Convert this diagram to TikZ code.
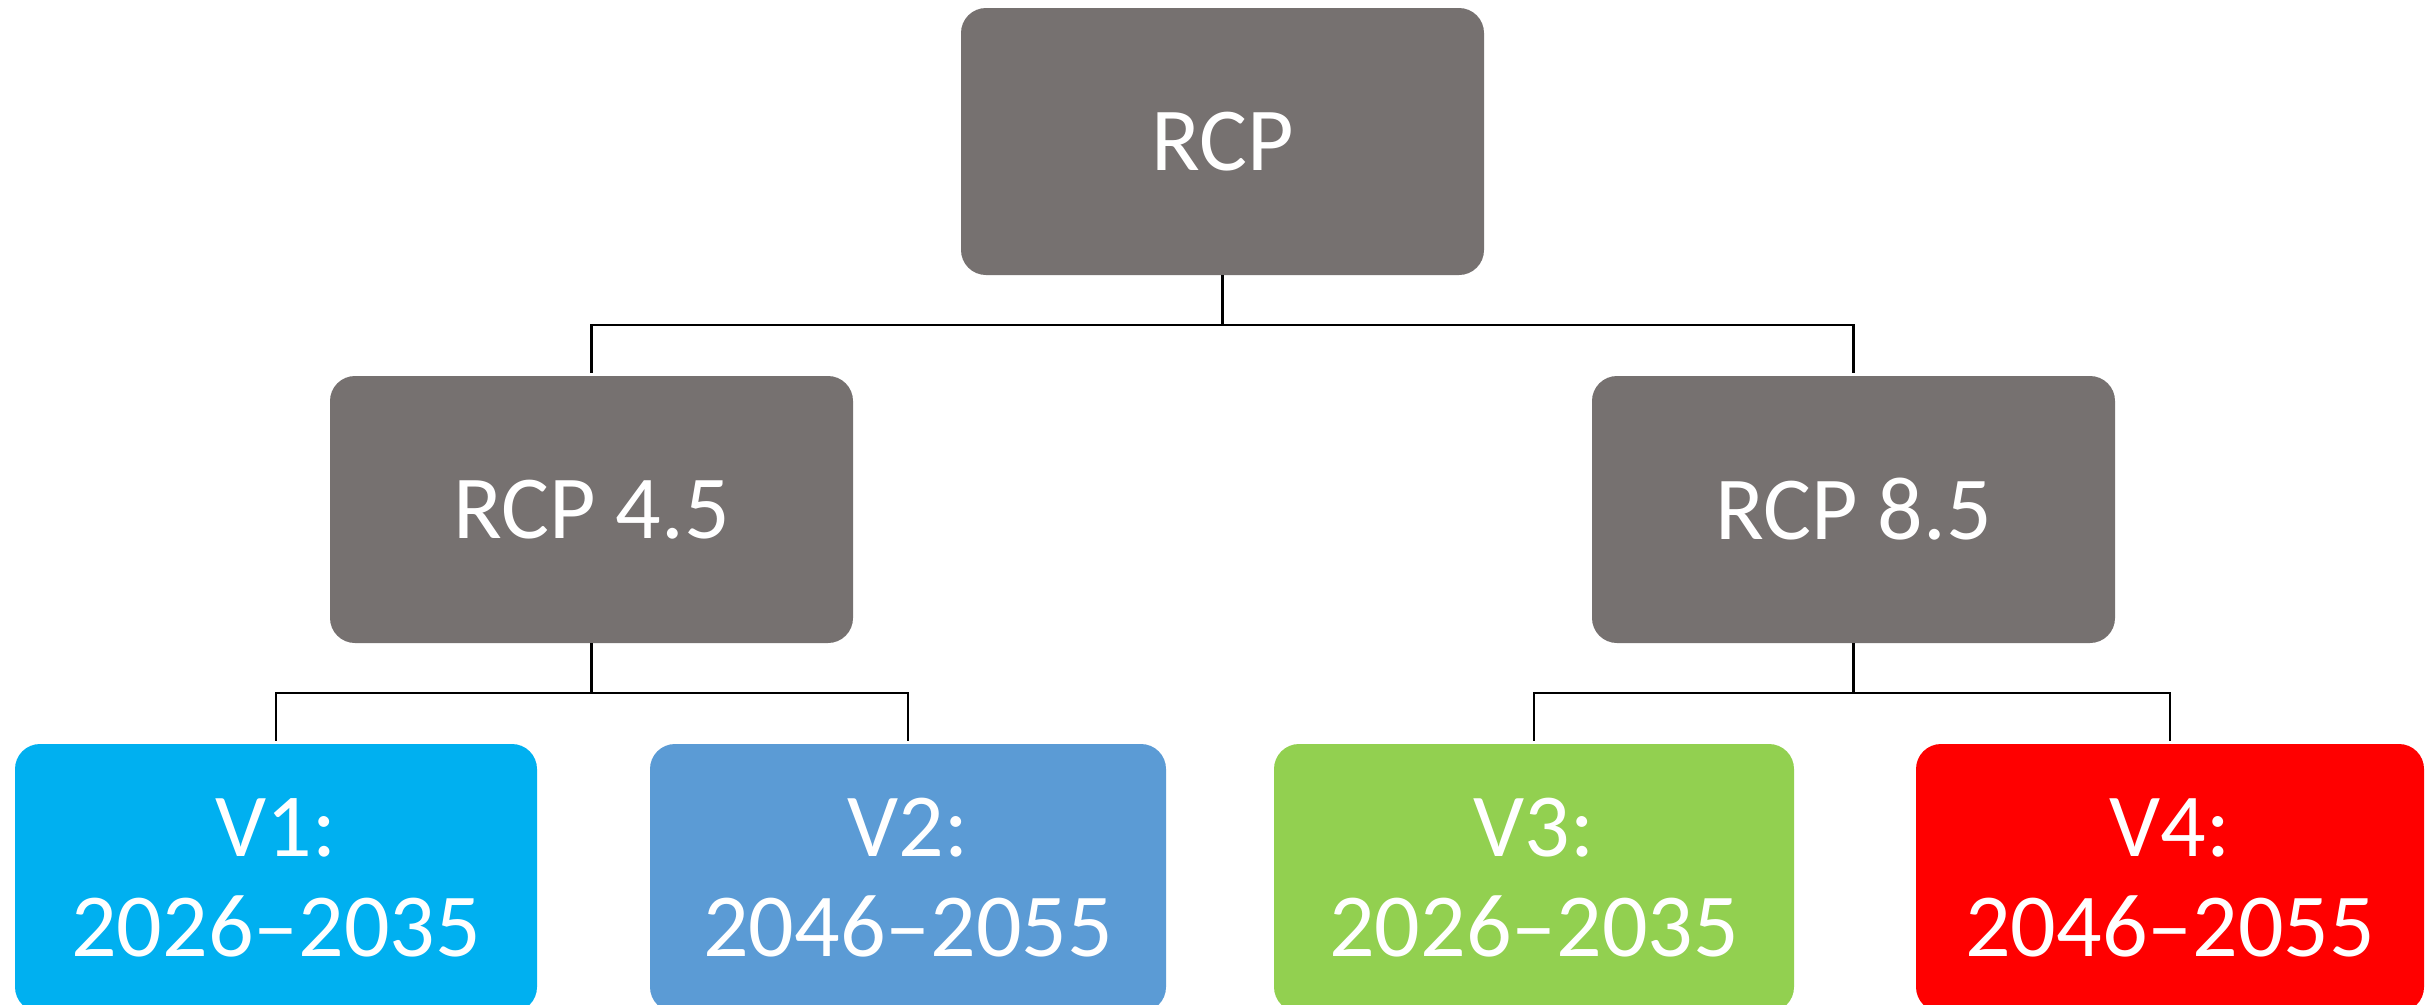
\documentclass[tikz,border=0pt]{standalone}
\usepackage{fontspec}
\setmainfont{Carlito}
\usetikzlibrary{calc}
\definecolor{boxgray}{RGB}{118,113,112}
\definecolor{vone}{RGB}{0,176,240}
\definecolor{vtwo}{RGB}{91,155,213}
\definecolor{vthree}{RGB}{146,208,80}
\definecolor{vfour}{RGB}{255,0,0}
\tikzset{
  box/.style={rectangle, rounded corners=25pt, inner sep=0pt, text=white, align=center,
    font=\fontsize{90}{100}\selectfont, minimum height=267pt},
  conn/.style={draw=black, line width=2.5pt}
}
\begin{document}
\begin{tikzpicture}[x=1pt, y=-1pt]
\useasboundingbox (0,0) rectangle (2431,1004);
\clip (0,0) rectangle (2431,1004);
\fill[white] (0,0) rectangle (2431,1004);
\node[box, fill=boxgray, minimum width=523pt] (top) at (1222.5,141.5) {RCP};
\node[box, fill=boxgray, minimum width=523pt] (r45) at (591.5,509.5) {RCP 4.5};
\node[box, fill=boxgray, minimum width=523pt] (r85) at (1853.5,509.5) {RCP 8.5};
\node[box, fill=vone, minimum width=522pt, minimum height=268pt] (v1) at (276,878) {V1:\\2026–2035};
\node[box, fill=vtwo, minimum width=516pt, minimum height=268pt] (v2) at (908,878) {V2:\\2046–2055};
\node[box, fill=vthree, minimum width=520pt, minimum height=268pt] (v3) at (1534,878) {V3:\\2026–2035};
\node[box, fill=vfour, minimum width=508pt, minimum height=268pt] (v4) at (2170,878) {V4:\\2046–2055};
\coordinate (j0) at ($(top.south)+(0,50)$);
\coordinate (j1) at ($(r45.south)+(0,50)$);
\coordinate (j2) at ($(r85.south)+(0,50)$);
\draw[conn] (top.south) -- (j0);
\draw[conn] ([yshift=3pt]r45.north) |- (j0) -| ([yshift=3pt]r85.north);
\draw[conn] (r45.south) -- (j1);
\draw[conn] ([yshift=3pt]v1.north) |- (j1) -| ([yshift=3pt]v2.north);
\draw[conn] (r85.south) -- (j2);
\draw[conn] ([yshift=3pt]v3.north) |- (j2) -| ([yshift=3pt]v4.north);
\end{tikzpicture}
\end{document}
